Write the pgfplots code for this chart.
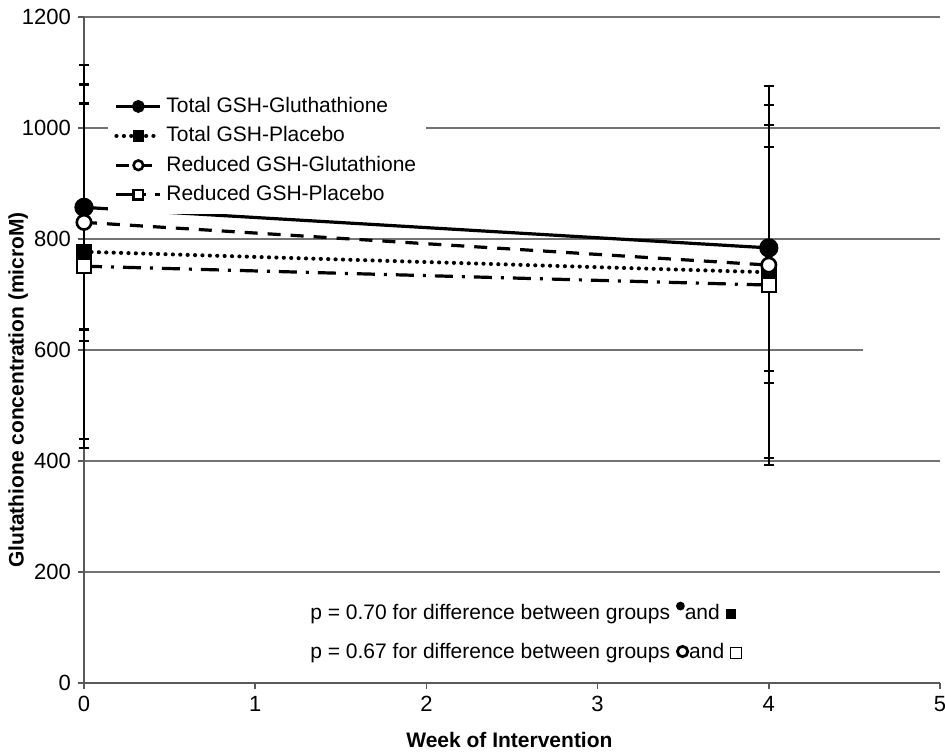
\documentclass[border=0pt]{standalone}
\usepackage{fontspec}
\setmainfont{Liberation Sans}
\usepackage{pgfplots}
\pgfplotsset{compat=1.18}
\begin{document}
\begin{tikzpicture}
\begin{axis}[
  scale only axis, width=428pt, height=333pt,
  xmin=0, xmax=5, ymin=0, ymax=1200,
  xtick={0,1,2,3,4,5}, ytick={0,200,400,600,800,1000,1200},
  axis x line*=bottom, axis y line*=left,
  axis line style={-, black!65, line width=1pt},
  ymajorgrids, major grid style={black!55, line width=1pt},
  tick style={black!65, line width=0.8pt}, tick align=outside, major tick length=3pt,
  /pgf/number format/assume math mode=true,
  /pgf/number format/1000 sep={},
  ticklabel style={font=\fontsize{11}{13}\selectfont},
  xlabel={\textbf{Week of Intervention}},
  ylabel={\textbf{Glutathione concentration (microM)}},
  label style={font=\fontsize{10.5}{12}\selectfont},
  xlabel style={at={(axis description cs:0.497,-0.086)}, anchor=center},
  ylabel style={at={(axis description cs:-0.077,0.44)}, anchor=center, rotate=0},
  clip=false,
  legend style={at={(axis description cs:0.028,0.895)}, anchor=north west, draw=none, fill=white,
    font=\fontsize{10.5}{12}\selectfont, row sep=1.6pt, inner xsep=3pt, inner ysep=3pt,
    /tikz/every even column/.append style={column sep=3pt}},
  legend cell align=left,
  legend image code/.code={\draw[mark repeat=2,mark phase=2,#1,mark size=2.4pt] plot coordinates {(0pt,0pt) (11pt,0pt) (22pt,0pt)};},
  error bars/y dir=both, error bars/y explicit,
  error bars/error bar style={black, line width=1.1pt, solid},
  error bars/error mark options={rotate=90, mark size=2.6pt, line width=1.1pt, black, solid},
]
% Total GSH-Gluthathione
\addplot[black, line width=1.6pt, solid, mark=*, mark size=4pt, mark options={solid, fill=black}]
  coordinates {(0,857) +- (0,220) (4,784) +- (0,222)};
\addlegendentry{Total GSH-Gluthathione}
% Total GSH-Placebo
\addplot[black, line width=2pt, line cap=round, dash pattern=on 0.1pt off 3.6pt, mark=square*, mark size=3.6pt, mark options={solid, fill=black, line cap=butt, line width=1pt}]
  coordinates {(0,777) +- (0,337) (4,740) +- (0,335)};
\addlegendentry{Total GSH-Placebo}
% Reduced GSH-Glutathione
\addplot[black, line width=1.6pt, dash pattern=on 6.5pt off 5pt, mark=*, mark size=3.6pt, mark options={solid, fill=white, line width=1.3pt}]
  coordinates {(0,830) +- (0,214) (4,753) +- (0,213)};
\addlegendentry{Reduced GSH-Glutathione}
% Reduced GSH-Placebo
\addplot[black, line width=1.6pt, dash pattern=on 9pt off 4.5pt on 1.5pt off 4.5pt, mark=square*, mark size=3.6pt, mark options={solid, fill=white, line width=1.1pt}]
  coordinates {(0,751) +- (0,328) (4,717) +- (0,324)};
\addlegendentry{Reduced GSH-Placebo}
\fill[white] (axis cs:4.55,588) rectangle (axis cs:5.02,612);
\node[anchor=west, font=\fontsize{10.5}{12}\selectfont, inner sep=0pt] at (axis cs:1.32,127)
  {p = 0.70 for difference between groups \tikz[baseline=0pt]\fill (0,0.62em) circle (2.2pt);and \tikz[baseline=0pt]\fill (0,0) rectangle (5pt,5pt);};
\node[anchor=west, font=\fontsize{10.5}{12}\selectfont, inner sep=0pt] at (axis cs:1.32,54)
  {p = 0.67 for difference between groups \tikz[baseline=0pt]\draw[line width=1.4pt] (0,0.33em) circle (2.6pt);and \tikz[baseline=0pt]\draw[line width=0.6pt] (0,0) rectangle (5.5pt,5.5pt);};
\end{axis}
\pgfresetboundingbox
\useasboundingbox (current axis.south west) ++(-42pt,-34pt) rectangle ([xshift=2.5pt,yshift=8.5pt]current axis.north east);
\end{tikzpicture}
\end{document}
